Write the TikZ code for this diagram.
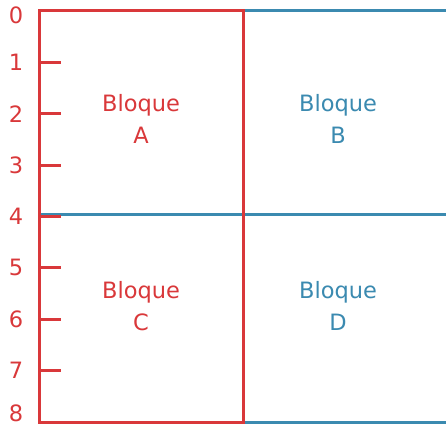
\documentclass[tikz,border=0pt]{standalone}
\usepackage{fontspec}
\setmainfont{DejaVu Sans}
\usepackage{tikz}
\usepackage{xcolor}
\definecolor{rojo}{RGB}{217,56,58}
\definecolor{azul}{RGB}{59,138,176}

\begin{document}
\begin{tikzpicture}[x=1pt,y=-1pt,
  linea/.style={line width=3pt},
  etiq/.style={font=\fontsize{22.5}{32}\selectfont,align=center,inner sep=0pt}]
\useasboundingbox (0,0) rectangle (446,428);
% lineas azules
\draw[azul,linea](243,11)--(446,11);
\draw[azul,linea](39,214)--(446,214);
\draw[azul,linea](243,422)--(446,422);
% bloque rojo y eje
\draw[rojo,linea](39,11) rectangle (243,422);
\foreach \y in {1,...,7}
  \draw[rojo,linea](39,11+\y*51.375)--(61,11+\y*51.375);
\node[rojo,etiq] (n0) at (16,15.5) {0};
\foreach \y in {1,...,7}
  \node[rojo,etiq] (n\y) at (16,11+\y*51.375) {\y};
\node[rojo,etiq] (n8) at (16,413) {8};
% bloques
\node[rojo,etiq] (bloqueA) at (141,119) {Bloque\\A};
\node[azul,etiq] (bloqueB) at (338,119) {Bloque\\B};
\node[rojo,etiq] (bloqueC) at (141,306) {Bloque\\C};
\node[azul,etiq] (bloqueD) at (338,306) {Bloque\\D};
\end{tikzpicture}
\end{document}
